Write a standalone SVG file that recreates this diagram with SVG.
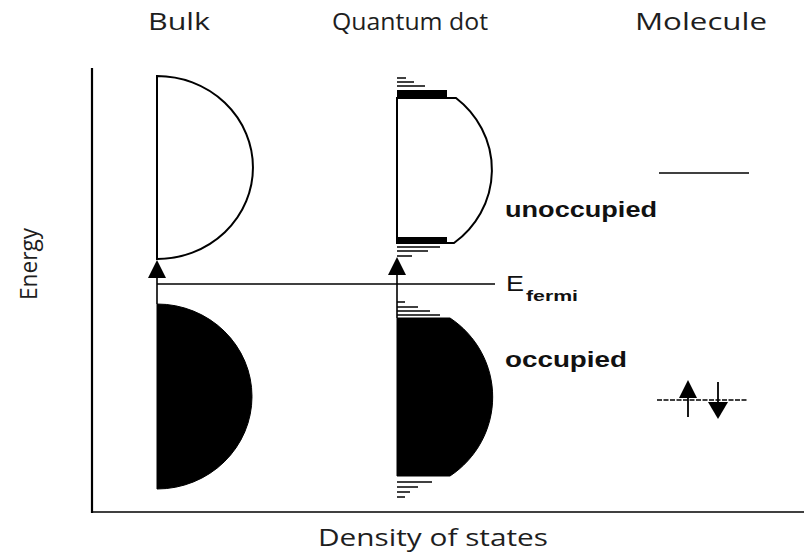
<svg xmlns="http://www.w3.org/2000/svg" width="806" height="553" viewBox="0 0 806 553">
<style>
.ttl{font-family:"Open Sans","Noto Sans",sans-serif;font-size:23px;fill:#1e1e1e}
.lbl{font-family:"Liberation Sans",Arial,sans-serif;font-weight:bold;fill:#111}
.ln{stroke:#000;fill:none}
.blk{fill:#000;stroke:#000;stroke-width:1}
</style>
<rect width="806" height="553" fill="#fff"/>
<g id="axes">
<line class="ln" x1="92" y1="68" x2="92" y2="513" stroke-width="2.2"/>
<line class="ln" x1="91" y1="512" x2="804" y2="512" stroke-width="1.6" stroke="#222"/>
</g>
<g id="titles">
<text class="ttl" x="148" y="30" textLength="62" lengthAdjust="spacingAndGlyphs">Bulk</text>
<text class="ttl" x="332" y="30" textLength="156" lengthAdjust="spacingAndGlyphs">Quantum dot</text>
<text class="ttl" x="635" y="30" textLength="132" lengthAdjust="spacingAndGlyphs">Molecule</text>
<text class="ttl" x="318" y="546" textLength="230" lengthAdjust="spacingAndGlyphs">Density of states</text>
<text class="ttl" transform="translate(37,300) rotate(-90)" x="0" y="0" textLength="72" lengthAdjust="spacingAndGlyphs">Energy</text>
</g>
<g id="bulk">
<path class="ln" stroke-width="2" d="M157,76 A96,91.5 0 0 1 157,259 Z"/>
<path class="blk" d="M157,304 A95,92.5 0 0 1 157,489 Z"/>
</g>
<g id="quantum-dot">
<path class="ln" stroke-width="2" d="M397,98 L456,98 A96,92 0 0 1 454,243 L397,243 Z"/>
<rect x="397" y="90" width="50" height="8" fill="#000"/>
<rect x="397" y="237" width="50" height="6" fill="#000"/>
<g class="ln" stroke-width="1.5">
<line x1="397" y1="78" x2="406" y2="78"/>
<line x1="397" y1="82" x2="414" y2="82"/>
<line x1="397" y1="86" x2="425" y2="86"/>
<line x1="397" y1="247" x2="440" y2="247"/>
<line x1="397" y1="251" x2="428" y2="251"/>
<line x1="397" y1="256" x2="412" y2="256"/>
<line x1="397" y1="302" x2="405" y2="302"/>
<line x1="397" y1="307" x2="418" y2="307"/>
<line x1="397" y1="311" x2="430" y2="311"/>
<line x1="397" y1="315" x2="440" y2="315"/>
<line x1="397" y1="482" x2="432" y2="482"/>
<line x1="397" y1="487" x2="418" y2="487"/>
<line x1="397" y1="492" x2="410" y2="492"/>
<line x1="397" y1="497" x2="405" y2="497"/>
</g>
<path class="blk" d="M397,318 L450,318 A96,95 0 0 1 450,476 L397,476 Z"/>
</g>
<g id="molecule">
<line class="ln" x1="659" y1="173" x2="749" y2="173" stroke-width="1.6"/>
<line class="ln" x1="657" y1="400" x2="747" y2="400" stroke-width="1.3" stroke-dasharray="5,1.5"/>
</g>
<g id="labels">
<text class="lbl" x="505" y="217" font-size="22" textLength="152" lengthAdjust="spacingAndGlyphs">unoccupied</text>
<text class="lbl" x="505" y="367" font-size="22" textLength="122" lengthAdjust="spacingAndGlyphs">occupied</text>
<text class="lbl" x="506" y="291" font-size="22" font-weight="normal" style="font-weight:normal" textLength="18" lengthAdjust="spacingAndGlyphs">E</text>
<text class="lbl" x="526" y="301" font-size="15" textLength="52" lengthAdjust="spacingAndGlyphs">fermi</text>
</g>
<g id="connectors">
<line class="ln" x1="157" y1="284" x2="495" y2="284" stroke-width="1.6"/>
<line class="ln" x1="157" y1="276" x2="157" y2="304" stroke-width="1.6"/>
<polygon points="157,260 148,278 166,278" fill="#000"/>
<line class="ln" x1="397" y1="273" x2="397" y2="318" stroke-width="1.6"/>
<polygon points="397,257 388,275 406,275" fill="#000"/>
<line class="ln" x1="688" y1="396" x2="688" y2="417" stroke-width="1.8"/>
<polygon points="688,380 679,398 697,398" fill="#000"/>
<line class="ln" x1="718" y1="382" x2="718" y2="404" stroke-width="1.8"/>
<polygon points="708,402 728,402 718,419" fill="#000"/>
</g>
</svg>
